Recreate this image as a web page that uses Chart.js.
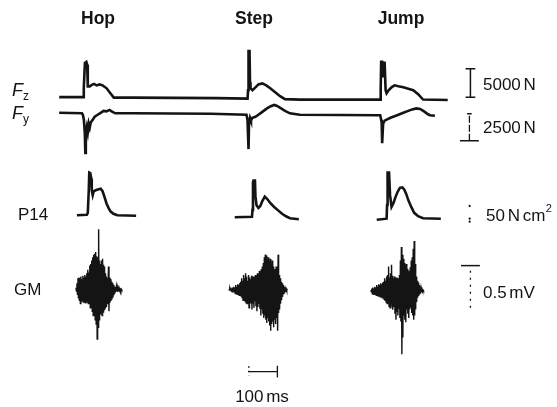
<!DOCTYPE html>
<html><head><meta charset="utf-8">
<script src="https://cdn.jsdelivr.net/npm/chart.js@4.4.1/dist/chart.umd.min.js"></script>
<style>html,body{margin:0;padding:0;background:#fff}#wrap{width:557px;height:407px}</style>
</head><body><div id="wrap"><canvas id="c" width="557" height="407"></canvas></div>
<script>
// ---- DATA (time in ms) ----
const phases = ["Hop", "Step", "Jump"];
const rowLabels = ["P14", "GM"];
const scaleLabels = ["5000 N", "2500 N", "50 N cm", "0.5 mV", "100 ms"];

// Vertical ground reaction force Fz (N)
const fzT = [0,84.5,86,90,95,98,100,107,114,122,131,141,152,166,179,191,255,549,659,
  660.7,662.4,665.9,667.6,669.3,676.2,686.6,697,710.7,724.5,738.3,755.6,772.8,790,841.8,945,1121,
  1123,1124.7,1126.4,1129.9,1131.6,1135,1138.5,1142,1145.4,1152.3,1162.7,1173,1186.8,1204,1221.3,1238.6,1255.8,1273,1359.3];
const fzN = [0,0,1550,6030,6200,5690,1900,1900,2150,2330,2070,2240,2070,1550,690,-86,-86,-172,-259,
  1210,8100,8100,2590,1550,1210,1720,2240,2410,2070,1550,860,172,-345,-431,-431,-431,
  -431,1210,6200,6200,3450,6030,6030,1210,690,1210,1720,2070,1900,1720,1470,1210,520,-431,-517];

// Horizontal ground reaction force Fy (N)
const fyT = [0,79.4,82.8,86.3,89.7,91.4,93.2,96.6,100,103.5,107,110.4,117.3,124.2,134.6,145,155.3,165.6,176,186.3,196.7,255.3,531,
  655.2,658.7,662.4,664.1,667.6,671,676.2,686.6,697,710.7,724.5,738.3,752.1,762.4,776.3,790,807.3,841.8,1117.8,
  1123,1126.4,1128.2,1129.9,1133.3,1138.5,1145.4,1159.2,1173,1186.8,1204,1221.3,1235.1,1248.9,1262.7,1276.5,1290.3,1297.2,1314.5];
const fyN = [91,45,-91,-544,-1812,-3624,-1631,-1178,-1722,-906,-1268,-815,-544,-272,-91,91,272,227,362,181,45,45,0,
  -91,-544,-3262,-815,-362,-634,-362,-272,-91,181,453,680,815,725,498,272,45,-91,-136,
  -136,-544,-815,-2718,-906,-634,-544,-362,-227,-91,91,272,408,498,453,227,-45,-136,-181];

// P14 tendon force (N/cm2), one array pair per phase
const p14HopT = [62.1,96.6,100,103.5,105.2,108.7,112.1,113.9,117.3,120.8,127.7,138,145,151.8,158.7,165.6,172.5,179.4,189.8,203.6,269.1];
const p14HopV = [7.8,9.4,15.6,87.5,143.8,142.2,125,87.5,71.9,84.4,87.5,90.6,92.2,84.4,65.6,45.3,31.3,20.3,12.5,7.8,6.3];
const p14StepT = [614.1,674.5,676.2,678,679.7,684.9,686.6,690.1,697,703.8,710.7,719.3,728,738.3,752.1,765.9,779.7,793.5,807.3,838.4];
const p14StepV = [1.6,3.1,25,112.5,118.8,118.8,68.8,40.6,31.3,37.5,53.1,67.2,59.4,46.9,34.4,23.4,12.5,4.7,-1.6,-4.7];
const p14JumpT = [1110.9,1145.4,1147.1,1148.9,1154,1157.5,1162.7,1169.6,1176.5,1183.4,1192,1200.6,1207.5,1214.4,1221.3,1231.7,1242,1255.8,1273,1335.2];
const p14JumpV = [-6.3,-3.1,40.6,143.8,143.8,71.9,34.4,46.9,65.6,81.3,95.3,96.9,89.1,75,56.3,34.4,15.6,4.7,-1.6,-3.1];

// GM EMG envelope (mV): positive and negative peaks per 3.45 ms sample
const gmSampleMs = 3.45;
const gmHopStart = 58.6;
const gmHopHi = [0.02,0.07,0.13,0.14,0.13,0.15,0.12,0.16,0.14,0.17,0.15,0.19,0.23,0.20,0.28,0.30,0.34,0.38,0.41,0.42,0.44,0.39,0.38,0.71,0.34,0.30,0.34,0.36,0.29,0.27,0.19,0.15,0.13,0.27,0.14,0.12,0.09,0.07,0.05,0.03,0.02,0.03,0.02,0.01,0.01,0.00,0.00];
const gmHopLo = [-0.02,-0.06,-0.10,-0.13,-0.17,-0.14,-0.12,-0.15,-0.13,-0.16,-0.14,-0.15,-0.17,-0.16,-0.22,-0.21,-0.26,-0.31,-0.29,-0.36,-0.41,-0.59,-0.45,-0.36,-0.29,-0.26,-0.31,-0.27,-0.24,-0.22,-0.20,-0.17,-0.15,-0.26,-0.16,-0.14,-0.12,-0.10,-0.07,-0.05,-0.03,-0.02,-0.03,-0.02,-0.01,-0.02,-0.01];
const gmStepStart = 593.4;
const gmStepHi = [0.00,0.01,0.02,0.01,0.02,0.03,0.02,0.05,0.03,0.06,0.05,0.07,0.09,0.13,0.10,0.17,0.13,0.19,0.15,0.10,0.17,0.14,0.12,0.16,0.13,0.15,0.09,0.17,0.14,0.19,0.15,0.22,0.19,0.24,0.27,0.31,0.38,0.41,0.40,0.34,0.38,0.32,0.36,0.30,0.34,0.27,0.22,0.24,0.27,0.20,0.41,0.17,0.13,0.09,0.07,0.05,0.03,0.02,0.01,0.00];
const gmStepLo = [-0.01,-0.01,-0.02,-0.03,-0.02,-0.03,-0.05,-0.03,-0.06,-0.05,-0.07,-0.06,-0.08,-0.10,-0.13,-0.09,-0.14,-0.16,-0.17,-0.14,-0.22,-0.16,-0.15,-0.24,-0.17,-0.22,-0.14,-0.20,-0.26,-0.21,-0.17,-0.23,-0.31,-0.24,-0.29,-0.34,-0.31,-0.36,-0.40,-0.34,-0.38,-0.43,-0.49,-0.41,-0.38,-0.45,-0.36,-0.41,-0.34,-0.49,-0.28,-0.24,-0.17,-0.13,-0.09,-0.06,-0.05,-0.03,-0.02,-0.01];
const gmJumpStart = 1090.2;
const gmJumpHi = [-0.01,0.01,0.02,0.01,0.03,0.02,0.05,0.03,0.06,0.05,0.07,0.06,0.08,0.09,0.13,0.10,0.15,0.17,0.27,0.14,0.19,0.29,0.16,0.13,0.15,0.12,0.14,0.13,0.10,0.17,0.34,0.50,0.41,0.36,0.31,0.27,0.30,0.24,0.22,0.19,0.26,0.34,0.38,0.48,0.57,0.30,0.15,0.10,0.08,0.05,0.03,0.01,0.00,-0.01];
const gmJumpLo = [-0.03,-0.05,-0.06,-0.05,-0.06,-0.07,-0.06,-0.08,-0.07,-0.09,-0.08,-0.10,-0.09,-0.12,-0.13,-0.15,-0.17,-0.14,-0.20,-0.22,-0.16,-0.19,-0.24,-0.21,-0.29,-0.36,-0.27,-0.31,-0.23,-0.34,-0.38,-0.77,-0.57,-0.31,-0.36,-0.39,-0.24,-0.29,-0.34,-0.24,-0.22,-0.28,-0.31,-0.36,-0.31,-0.24,-0.15,-0.10,-0.08,-0.06,-0.05,-0.03,-0.02,-0.02];

// Calibration bar magnitudes
const calFz = [0, 5000];      // N
const calFy = [-2500, 0];     // N
const calP14 = [-12.5, -3, 37.5]; // 50 N/cm2 (dotted)
const calGM = [-0.22, 0.28];  // 0.5 mV
const calTime = [0, 100];     // ms

// ---- build ----
const pairs = (t, v) => t.map((x, i) => ({x, y: v[i]}));
function burst(start, hi, lo) {
  const pts = [];
  hi.forEach((h, i) => {
    const t = start + i * gmSampleMs;
    pts.push({x: t, y: h});
    pts.push({x: t + gmSampleMs / 2, y: lo[i]});
  });
  return pts;
}
const ink = '#141414';
const trace = (data, axis, w) => ({data, yAxisID: axis, borderColor: ink, backgroundColor: ink, borderWidth: w, pointRadius: 0, tension: 0, fill: false});

const xFzBar = 1438.7, xFyBar = 1435.2, xP14Bar = 1436, xGMBar = 1438.7;
const capHalfFz = 17, capHalfFy = 33, capHalfGM = 33;
const xTimeBar = 663.4;

const datasets = [
  trace(pairs(fzT, fzN), 'yFz', 2.6),
  trace(pairs(fyT, fyN), 'yFy', 2.6),
  trace(pairs(p14HopT, p14HopV), 'yP', 2.6),
  trace(pairs(p14StepT, p14StepV), 'yP', 2.6),
  trace(pairs(p14JumpT, p14JumpV), 'yP', 2.6),
  trace(burst(gmHopStart, gmHopHi, gmHopLo), 'yGM', 1.4),
  trace(burst(gmStepStart, gmStepHi, gmStepLo), 'yGM', 1.4),
  trace(burst(gmJumpStart, gmJumpHi, gmJumpLo), 'yGM', 1.4),
  // calibration bars
  trace([{x:xFzBar,y:calFz[0]},{x:xFzBar,y:calFz[1]},{x:null,y:null},
         {x:xFzBar-capHalfFz,y:calFz[1]},{x:xFzBar+capHalfFz,y:calFz[1]},{x:null,y:null},
         {x:xFzBar-capHalfFz,y:calFz[0]},{x:xFzBar+capHalfFz,y:calFz[0]}], 'yFz', 1.5),
  Object.assign(trace([{x:xFyBar,y:calFy[0]},{x:xFyBar,y:calFy[1]}], 'yFy', 1.3), {borderDash:[7,2]}),
  trace([{x:xFyBar-capHalfFy,y:calFy[0]},{x:xFyBar+capHalfFy,y:calFy[0]},{x:null,y:null},
         {x:xFyBar-8,y:calFy[1]},{x:xFyBar+8,y:calFy[1]}], 'yFy', 1.5),
  Object.assign(trace(calP14.map(v => ({x:xP14Bar, y:v})), 'yP', 0), {showLine:false, pointRadius:1.1, pointBorderWidth:0}),
  Object.assign(trace([{x:xGMBar,y:calGM[0]},{x:xGMBar,y:calGM[1]-0.06}], 'yGM', 1.3), {borderDash:[2,5]}),
  trace([{x:xGMBar-capHalfGM,y:calGM[1]},{x:xGMBar+capHalfGM,y:calGM[1]}], 'yGM', 1.5),
  trace([{x:xTimeBar+calTime[0],y:-0.974},{x:xTimeBar+calTime[1],y:-0.974},{x:null,y:null},
         {x:xTimeBar+calTime[1],y:-0.905},{x:xTimeBar+calTime[1],y:-1.044}], 'yGM', 1.3),
  Object.assign(trace([{x:xTimeBar,y:-0.91},{x:xTimeBar,y:-1.02}], 'yGM', 1.5), {borderDash:[1.5,3]})
];

const FONT = '"Liberation Sans", Arial, sans-serif';
// draw text with the narrow word spacing of the original typesetting
function narrowText(ctx, str, x, y, size, align) {
  const gap = size * 0.16;
  const words = str.split(' ');
  const widths = words.map(w => ctx.measureText(w).width);
  const total = widths.reduce((a, b) => a + b, 0) + gap * (words.length - 1);
  let cx = align === 'center' ? x - total / 2 : x;
  const prev = ctx.textAlign;
  ctx.textAlign = 'left';
  words.forEach((w, i) => { ctx.fillText(w, cx, y); cx += widths[i] + gap; });
  ctx.textAlign = prev;
  return cx - gap;
}
const textPlugin = {
  id: 'texts',
  afterDraw(chart) {
    const ctx = chart.ctx;
    ctx.save();
    ctx.fillStyle = ink;
    ctx.textBaseline = 'alphabetic';
    ctx.font = 'bold 17.5px ' + FONT;
    ctx.textAlign = 'center';
    ctx.fillText(phases[0], 98, 24);
    ctx.fillText(phases[1], 254, 24);
    ctx.fillText(phases[2], 401, 24);
    ctx.textAlign = 'left';
    ctx.font = 'italic 18px ' + FONT;
    ctx.fillText('F', 12, 96);
    ctx.fillText('F', 12, 119);
    ctx.font = '12px ' + FONT;
    ctx.fillText('z', 23, 100);
    ctx.fillText('y', 23, 123);
    const S = 17;
    ctx.font = S + 'px ' + FONT;
    ctx.fillText(rowLabels[0], 18, 220);
    ctx.fillText(rowLabels[1], 14, 295);
    narrowText(ctx, scaleLabels[0], 483, 90, S);
    narrowText(ctx, scaleLabels[1], 483, 133, S);
    const end = narrowText(ctx, scaleLabels[2], 486, 221, S);
    narrowText(ctx, scaleLabels[3], 483, 298, S);
    narrowText(ctx, scaleLabels[4], 262, 402, S, 'center');
    ctx.font = '11px ' + FONT;
    ctx.fillText('2', end + 0.5, 212);
    ctx.restore();
  }
};

new Chart(document.getElementById('c'), {
  type: 'line',
  data: {datasets},
  options: {
    responsive: false, animation: false, events: [],
    layout: {padding: 0},
    plugins: {legend: {display: false}, tooltip: {enabled: false}},
    scales: {
      x: {type: 'linear', display: false, min: -193.1, max: 1727.6},
      yFz: {axis: 'y', type: 'linear', display: false, min: -53789, max: 16378},
      yFy: {axis: 'y', type: 'linear', display: false, min: -26727, max: 10147},
      yP: {axis: 'y', type: 'linear', display: false, min: -590.6, max: 681.25},
      yGM: {axis: 'y', type: 'linear', display: false, min: -1.3456, max: 3.3756}
    }
  },
  plugins: [textPlugin]
});
</script>
</body></html>
